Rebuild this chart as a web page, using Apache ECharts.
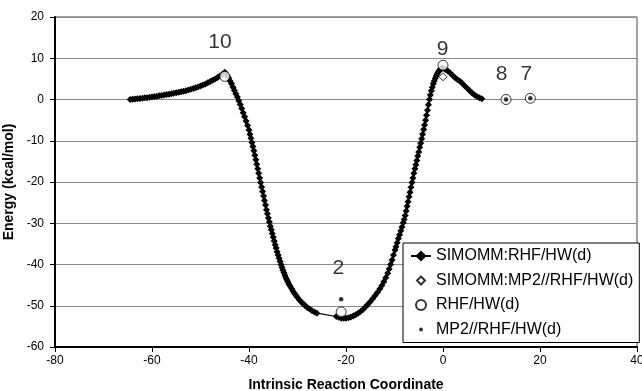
<!DOCTYPE html>
<html>
<head>
<meta charset="utf-8">
<script src="https://cdn.jsdelivr.net/npm/echarts@6.0.0/dist/echarts.min.js"></script>
<style>
  html, body { margin: 0; padding: 0; background: #fff; }
  #chart { width: 642px; height: 391px; }
</style>
</head>
<body>
<div id="chart"></div>
<script>
// SIMOMM:RHF/HW(d) IRC path
const ircCoord = [
  -64.5, -64.0, -63.5, -63.0, -62.5, -62.0, -61.5, -61.0, -60.5, -60.0,
  -59.5, -59.0, -58.5, -58.0, -57.5, -57.0, -56.5, -56.0, -55.5, -55.0,
  -54.5, -54.0, -53.5, -53.0, -52.5, -52.0, -51.5, -51.0, -50.5, -50.0,
  -49.5, -49.0, -48.5, -48.0, -47.5, -47.0, -46.5, -46.0, -45.5, -45.0,
  -44.8, -44.5, -44.2, -43.9, -43.6, -43.3, -43.0, -42.7, -42.4, -42.1,
  -41.8, -41.5, -41.2, -40.9, -40.6, -40.3, -40.0, -39.8, -39.6, -39.4,
  -39.2, -39.0, -38.8, -38.6, -38.4, -38.2, -38.0, -37.8, -37.6, -37.4,
  -37.2, -37.0, -36.8, -36.6, -36.4, -36.2, -36.0, -35.8, -35.6, -35.4,
  -35.2, -35.0, -34.8, -34.6, -34.4, -34.2, -34.0, -33.8, -33.6, -33.4,
  -33.2, -33.0, -32.8, -32.6, -32.4, -32.2, -32.0, -31.8, -31.5, -31.2,
  -30.9, -30.6, -30.3, -30.0, -29.6, -29.2, -28.8, -28.4, -28.0, -27.5,
  -27.0, -26.5, -26.0,
  -22.0, -21.5, -21.0, -20.5, -20.0, -19.5, -19.0, -18.5, -18.0, -17.5,
  -17.0, -16.5, -16.0, -15.5, -15.0, -14.5, -14.0, -13.5, -13.0, -12.6,
  -12.2, -11.8, -11.4, -11.1, -10.8, -10.5, -10.2, -9.9, -9.7, -9.45,
  -9.2, -8.95, -8.7, -8.45, -8.2, -8.0, -7.8, -7.6, -7.4, -7.2,
  -7.0, -6.8, -6.6, -6.4, -6.2, -6.0, -5.8, -5.6, -5.4, -5.2,
  -5.0, -4.8, -4.6, -4.4, -4.2, -4.0, -3.8, -3.6, -3.4, -3.2,
  -3.0, -2.8, -2.6, -2.4, -2.2, -2.0, -1.8, -1.6, -1.4, -1.2,
  -1.0, -0.8, -0.6, -0.4, -0.2, 0.0,
  0.5, 1.0, 1.5, 2.0, 2.5, 3.0, 3.5, 4.0, 4.5, 5.0,
  5.5, 6.0, 6.5, 7.0, 7.5, 8.0
];
const ircEnergy = [
  0.0, 0.05, 0.1, 0.2, 0.25, 0.3, 0.4, 0.45, 0.55, 0.6,
  0.7, 0.8, 0.9, 1.0, 1.1, 1.2, 1.3, 1.4, 1.5, 1.65,
  1.75, 1.9, 2.0, 2.15, 2.3, 2.5, 2.65, 2.85, 3.05, 3.25,
  3.5, 3.75, 4.05, 4.35, 4.65, 5.0, 5.35, 5.7, 6.1, 6.6,
  6.3, 5.8, 5.2, 4.5, 3.8, 3.0, 2.2, 1.4, 0.6, -0.3,
  -1.2, -2.2, -3.2, -4.2, -5.2, -6.3, -7.4, -8.4, -9.4, -10.4,
  -11.4, -12.4, -13.5, -14.6, -15.7, -16.8, -17.9, -19.0, -20.1, -21.2,
  -22.3, -23.4, -24.5, -25.6, -26.7, -27.7, -28.7, -29.7, -30.7, -31.6,
  -32.5, -33.4, -34.3, -35.2, -36.0, -36.9, -37.7, -38.5, -39.3, -40.0,
  -40.7, -41.4, -42.0, -42.6, -43.2, -43.7, -44.2, -44.7, -45.3, -45.9,
  -46.5, -47.0, -47.5, -48.0, -48.6, -49.1, -49.6, -50.0, -50.4, -50.8,
  -51.2, -51.5, -51.8,
  -52.6, -52.8, -53.0, -53.0, -53.0, -52.9, -52.7, -52.5, -52.2, -51.8,
  -51.4, -50.9, -50.3, -49.7, -49.0, -48.3, -47.5, -46.7, -45.9, -45.1,
  -44.2, -43.2, -42.1, -41.1, -40.0, -38.9, -37.7, -36.5, -35.7, -34.7,
  -33.7, -32.8, -31.8, -30.9, -29.9, -29.1, -28.1, -27.0, -25.9, -24.8,
  -23.6, -22.5, -21.3, -20.1, -19.0, -17.9, -16.8, -15.8, -14.8, -13.7,
  -12.7, -11.6, -10.6, -9.5, -8.4, -7.3, -6.2, -5.0, -3.8, -2.6,
  -1.3, 0.0, 1.1, 2.1, 3.0, 3.8, 4.5, 5.1, 5.7, 6.2,
  6.6, 7.0, 7.3, 7.5, 7.6, 7.6,
  7.3, 6.9, 6.4, 5.8, 5.3, 4.8, 4.4, 3.9, 3.3, 2.7,
  2.1, 1.6, 1.1, 0.7, 0.4, 0.2
];

// stationary points
const simMp2Coord = [0];
const simMp2Energy = [5.5];
const rhfCoord = [-45, -21, 0, 13, 18];
const rhfEnergy = [5.6, -51.5, 8.3, 0.0, 0.3];
const mp2Coord = [-21, 13, 18];
const mp2Energy = [-48.4, 0.0, 0.3];

// structure numbers
const labelCoord = [-46.0, -0.1, 12.1, 17.2, -21.6];
const labelEnergy = [13.9, 12.3, 6.1, 6.1, -40.9];
const labelText = ['10', '9', '8', '7', '2'];

const seriesNames = ['SIMOMM:RHF/HW(d)', 'SIMOMM:MP2//RHF/HW(d)', 'RHF/HW(d)', 'MP2//RHF/HW(d)'];

const xMin = -80, xMax = 40, xStep = 20;
const yMin = -60, yMax = 20, yStep = 10;

const zip = (xs, ys) => xs.map((x, i) => [x, ys[i]]);

// legend icons drawn inside a fixed 20x14 box so they keep their small size
const boxPath = 'path://M0,0 M20,14 ';
const diamondIcon = boxPath + 'M10,3 L14,7 L10,11 L6,7 Z';
const circleIcon = boxPath + 'M5,7 A5,5 0 1,1 15,7 A5,5 0 1,1 5,7 Z';
const dotIcon = boxPath + 'M8,7 A2,2 0 1,1 12,7 A2,2 0 1,1 8,7 Z';

const chart = echarts.init(document.getElementById('chart'));
const font = 'Liberation Sans, Arial, sans-serif';

chart.setOption({
  animation: false,
  textStyle: { fontFamily: font },
  grid: {
    left: 55, right: 5, top: 17, bottom: 44,
    containLabel: false, outerBoundsMode: 'none',
    show: true, borderColor: '#444', borderWidth: 1
  },
  xAxis: {
    type: 'value', min: xMin, max: xMax, interval: xStep,
    name: 'Intrinsic Reaction Coordinate',
    nameLocation: 'middle', nameGap: 31,
    nameTextStyle: { fontSize: 14, fontWeight: 'bold', color: '#000', fontFamily: font },
    axisLine: { onZero: false, lineStyle: { color: '#000', width: 2 } },
    axisTick: { show: true, length: 5, lineStyle: { color: '#000' } },
    axisLabel: { color: '#000', fontSize: 12, margin: 8, fontFamily: font },
    splitLine: { show: false }
  },
  yAxis: {
    type: 'value', min: yMin, max: yMax, interval: yStep,
    name: 'Energy (kcal/mol)',
    nameLocation: 'middle', nameGap: 33,
    nameTextStyle: { fontSize: 14, fontWeight: 'bold', color: '#000', fontFamily: font },
    axisLine: { onZero: false, lineStyle: { color: '#000', width: 2 } },
    axisTick: { show: true, length: 5, lineStyle: { color: '#000' } },
    axisLabel: { color: '#000', fontSize: 12, margin: 11, fontFamily: font },
    splitLine: { lineStyle: { color: '#8a8a8a', width: 1 } }
  },
  legend: {
    orient: 'vertical',
    left: 403, top: 243,
    padding: [5, 6, 5, 7],
    itemWidth: 20, itemHeight: 14, itemGap: 8.5,
    backgroundColor: '#fff',
    borderColor: '#000', borderWidth: 1,
    textStyle: { fontSize: 16, color: '#000', fontFamily: font },
    data: [
      { name: seriesNames[0] },
      { name: seriesNames[1], icon: diamondIcon },
      { name: seriesNames[2], icon: circleIcon },
      { name: seriesNames[3], icon: dotIcon }
    ]
  },
  series: [
    {
      name: seriesNames[0],
      type: 'line',
      data: zip(ircCoord, ircEnergy),
      symbol: 'diamond', symbolSize: 7,
      showAllSymbol: true,
      lineStyle: { color: '#000', width: 1.2 },
      itemStyle: { color: '#000' },
      z: 2
    },
    {
      name: seriesNames[1],
      type: 'scatter',
      data: zip(simMp2Coord, simMp2Energy),
      symbol: 'diamond', symbolSize: 8,
      itemStyle: { color: '#fff', borderColor: '#000', borderWidth: 1 },
      z: 4
    },
    {
      name: seriesNames[2],
      type: 'scatter',
      data: zip(rhfCoord, rhfEnergy),
      symbol: 'circle', symbolSize: 10,
      itemStyle: { color: '#fff', borderColor: '#000', borderWidth: 1 },
      z: 3
    },
    {
      name: seriesNames[3],
      type: 'scatter',
      data: zip(mp2Coord, mp2Energy),
      symbol: 'circle', symbolSize: 4.5,
      itemStyle: { color: '#000' },
      z: 5
    },
    {
      name: 'labels',
      type: 'scatter',
      data: zip(labelCoord, labelEnergy),
      symbolSize: 0,
      silent: true,
      label: {
        show: true, position: 'inside',
        formatter: p => labelText[p.dataIndex],
        fontSize: 21, color: '#000', fontFamily: font
      },
      z: 6
    }
  ]
});
</script>
</body>
</html>
